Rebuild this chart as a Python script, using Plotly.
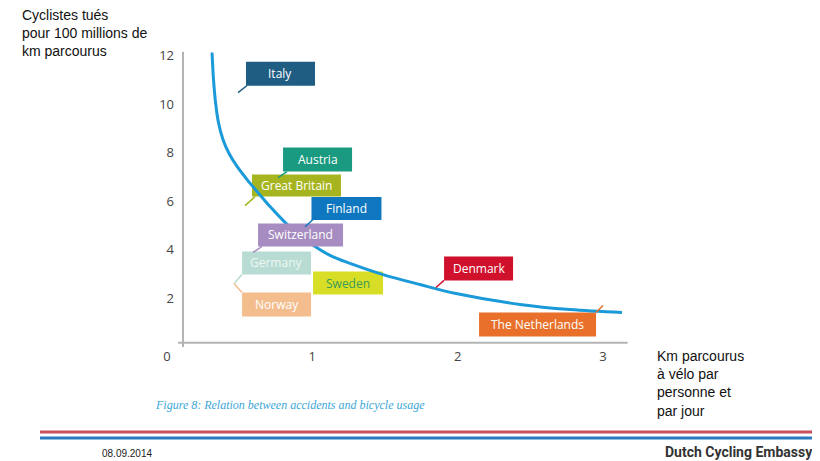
import plotly.graph_objects as go

# ---- data ----
usage = [0.310, 0.320, 0.334, 0.354, 0.385, 0.427, 0.482, 0.551, 0.626, 0.709, 0.799,
         0.895, 0.998, 1.122, 1.259, 1.487, 1.741, 1.989, 2.429, 2.774, 3.131]
deaths = [12.12, 11.01, 10.06, 9.24, 8.54, 7.96, 7.43, 6.89, 6.36, 5.78, 5.21,
          4.67, 4.22, 3.77, 3.44, 2.98, 2.57, 2.20, 1.75, 1.54, 1.42]

countries = ["Italy", "Austria", "Great Britain", "Finland", "Switzerland",
             "Germany", "Norway", "Sweden", "Denmark", "The Netherlands"]
x_ticks = [0, 1, 2, 3]
y_ticks = [2, 4, 6, 8, 10, 12]

# ---- label layout (positions of callout boxes, data coords) ----
label_x = [0.781, 1.036, 0.891, 1.235, 0.919, 0.754, 0.754, 1.246, 2.144, 2.55]
label_y = [11.25, 7.72, 6.65, 5.70, 4.61, 3.46, 1.75, 2.63, 3.23, 0.93]
label_w = [69, 69, 89, 70, 85, 69, 69, 70, 69, 117]
label_h = [24, 24, 22, 23, 23, 23, 24, 23, 24, 24]
label_on_top = [False, False, False, False, True, False, False, False, False, False]
box_colors = ["#1f5d82", "#1a9a80", "#a6b51f", "#0e77bf", "#a68cc0",
              "#b8dcd3", "#f3bd8e", "#d7de25", "#d0112b", "#e8702b"]
text_colors = ["#ffffff", "#ffffff", "#ffffff", "#ffffff", "#ffffff",
               "#eef7f4", "#ffffff", "#3c9a58", "#ffffff", "#ffffff"]
tails = [
    [(0.551, 10.76), (0.489, 10.47)],
    [(0.826, 7.22), (0.764, 6.97)],
    [(0.606, 6.19), (0.537, 5.82)],
    [(1.005, 5.25), (0.950, 4.95)],
    [(0.654, 4.14), (0.592, 3.89)],
    [(0.516, 2.98), (0.461, 2.61)],
    [(0.516, 2.24), (0.461, 2.61)],
    None,
    [(1.906, 2.74), (1.851, 2.45)],
    [(2.952, 1.42), (3.000, 1.71)],
]

OFF = 8  # page body margin
W, H = 820 - OFF, 461 - OFF
PL, PR, PT, PB = 150 - OFF, 640 - OFF, 40 - OFF, 347 - OFF


def px(x):
    return (x - OFF - PL) / (PR - PL)


def py(y):
    return (PB - (y - OFF)) / (PB - PT)


fig = go.Figure()
fig.add_trace(go.Scatter(
    x=usage, y=deaths, mode="lines",
    line=dict(color="#1a9ad8", width=3, shape="spline", smoothing=1.0),
    hoverinfo="skip", showlegend=False,
))

shapes = []
# axis lines
shapes.append(dict(type="line", xref="x", yref="y", x0=0.11, x1=0.11, y0=-0.1, y1=12.15,
                   line=dict(color="#b4b4b4", width=2), layer="below"))
shapes.append(dict(type="line", xref="x", yref="y", x0=0.075, x1=3.17, y0=0.18, y1=0.18,
                   line=dict(color="#b4b4b4", width=2), layer="below"))
# callout boxes
for x, y, w, h, bc, top in zip(label_x, label_y, label_w, label_h, box_colors, label_on_top):
    shapes.append(dict(type="rect", xref="x", yref="y",
                       xsizemode="pixel", xanchor=x, x0=-w / 2, x1=w / 2,
                       ysizemode="pixel", yanchor=y, y0=-h / 2, y1=h / 2,
                       fillcolor=bc, line=dict(width=0),
                       layer="above" if top else "below"))
# callout tails
for t, c in zip(tails, box_colors):
    if t is None:
        continue
    (x0, y0), (x1, y1) = t
    shapes.append(dict(type="line", xref="x", yref="y", x0=x0, y0=y0, x1=x1, y1=y1,
                       line=dict(color=c, width=1.5)))
# footer stripes
shapes.append(dict(type="line", xref="paper", yref="paper", x0=px(40), x1=px(815),
                   y0=py(432), y1=py(432), line=dict(color="#c9505e", width=3)))
shapes.append(dict(type="line", xref="paper", yref="paper", x0=px(40), x1=px(815),
                   y0=py(438), y1=py(438), line=dict(color="#2b7bc2", width=3)))

annotations = []
for name, x, y, tc in zip(countries, label_x, label_y, text_colors):
    annotations.append(dict(
        x=x, y=y, xref="x", yref="y", text=name, showarrow=False,
        font=dict(family="Open Sans", size=12, color=tc),
        xanchor="center", yanchor="middle", align="center",
    ))

annotations += [
    dict(x=px(20), y=py(33), xref="paper", yref="paper", showarrow=False,
         text="Cyclistes tués<br>pour 100 millions de<br>km parcourus",
         xanchor="left", yanchor="middle", align="left",
         font=dict(family="Liberation Sans", size=14, color="#111111")),
    dict(x=px(655), y=py(383), xref="paper", yref="paper", showarrow=False,
         text="Km parcourus<br>à vélo par<br>personne et<br>par jour",
         xanchor="left", yanchor="middle", align="left",
         font=dict(family="Liberation Sans", size=14, color="#111111")),
    dict(x=px(153), y=py(405), xref="paper", yref="paper", showarrow=False,
         text="<i>Figure 8: Relation between accidents and bicycle usage</i>",
         xanchor="left", yanchor="middle",
         font=dict(family="Liberation Serif", size=12, color="#3aa6d6")),
    dict(x=px(100), y=py(453), xref="paper", yref="paper", showarrow=False,
         text="08.09.2014", xanchor="left", yanchor="middle",
         font=dict(family="Liberation Sans", size=10, color="#222222")),
    dict(x=px(815), y=py(452), xref="paper", yref="paper", showarrow=False,
         text="<b>Dutch Cycling Embassy</b>", xanchor="right", yanchor="middle",
         font=dict(family="Roboto", size=14, color="#333333")),
]

x_min = -0.117
x_max = 3.255
y_max = (PB - PT) / 24.3

fig.update_layout(
    width=W, height=H,
    margin=dict(l=PL, r=W - PR, t=PT, b=H - PB, pad=0),
    paper_bgcolor="white", plot_bgcolor="white",
    showlegend=False,
    xaxis=dict(range=[x_min, x_max], tickvals=x_ticks, ticktext=[str(v) for v in x_ticks],
               showgrid=False, zeroline=False, showline=False, ticks="",
               tickfont=dict(family="Open Sans", size=13, color="#444444")),
    yaxis=dict(range=[0, y_max], tickvals=y_ticks, ticktext=[str(v) for v in y_ticks],
               showgrid=False, zeroline=False, showline=False, ticks="",
               anchor="free", position=px(174),
               tickfont=dict(family="Open Sans", size=13, color="#444444")),
    shapes=shapes, annotations=annotations,
)

fig.write_html("out.html")
